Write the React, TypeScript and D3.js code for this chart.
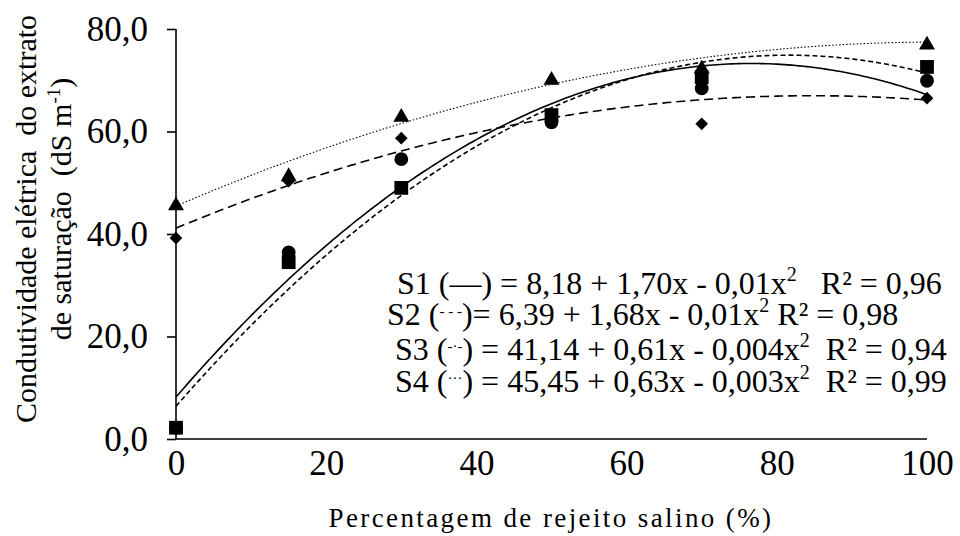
import * as d3 from 'd3';
import { useEffect, useRef } from 'react';

// percentage of saline reject
const doses = [0, 15, 30, 50, 70, 100];

// measured values, dS m-1
const s1Values = [2.2, 36.4, 54.6, 61.8, 68.4, 69.9];
const s2Values = [2.2, 34.5, 49.0, 63.2, 70.6, 72.6];
const s3Values = [39.2, 50.3, 58.7, 62.6, 61.5, 66.5];
const s4Values = [45.9, 51.6, 63.2, 70.4, 72.6, 77.3];

// quadratic fits (a + b x + c x^2)
const fitA = [8.18, 6.39, 41.14, 45.45];
const fitB = [1.70, 1.68, 0.61, 0.63];
const fitC = [-0.0111, -0.0103, -0.0036, -0.0031];

const seriesNames = ['S1', 'S2', 'S3', 'S4'];
const legendMarks = ['—', '- - -', '-·-', '···'];
const legendEquations = [
  ') = 8,18 + 1,70x - 0,01x',
  ')= 6,39 + 1,68x - 0,01x',
  ') = 41,14 + 0,61x - 0,004x',
  ') = 45,45 + 0,63x - 0,003x',
];
const legendR2 = ['   R² = 0,96', ' R² = 0,98', '  R² = 0,94', '  R² = 0,99'];

const yTicks = [0, 20, 40, 60, 80];
const xTicks = [0, 20, 40, 60, 80, 100];

const FONT = '"Liberation Serif", "Times New Roman", serif';

export default function App() {
  const ref = useRef<SVGSVGElement>(null);

  useEffect(() => {
    const svg = d3.select(ref.current);
    svg.selectAll('*').remove();

    const width = 960;
    const height = 536;
    const left = 176;
    const right = 927;
    const top = 29;
    const bottom = 439;

    const x = d3.scaleLinear().domain([0, 100]).range([left, right]);
    const y = d3.scaleLinear().domain([0, 80]).range([bottom, top]);

    svg.attr('width', width).attr('height', height).attr('font-family', FONT);
    svg.append('rect').attr('width', width).attr('height', height).attr('fill', '#fff');

    // axes
    const yAxis = svg.append('g')
      .attr('transform', `translate(${left},0)`)
      .call(d3.axisLeft(y).tickValues(yTicks).tickSize(9).tickPadding(19)
        .tickFormat((d) => d3.format('.1f')(d as number).replace('.', ',')));
    yAxis.attr('font-family', FONT);
    yAxis.select('.domain').attr('stroke', '#000').attr('stroke-width', 1.6)
      .attr('d', `M0,${bottom}V${top}`);
    yAxis.selectAll('.tick line').attr('stroke', '#000').attr('stroke-width', 1.6);
    yAxis.selectAll('.tick text').attr('font-size', 35).attr('fill', '#000');

    const xAxis = svg.append('g')
      .attr('transform', `translate(0,${bottom})`)
      .call(d3.axisBottom(x).tickValues(xTicks).tickSize(0).tickPadding(11)
        .tickFormat(d3.format('d')));
    xAxis.attr('font-family', FONT);
    xAxis.select('.domain').attr('stroke', '#000').attr('stroke-width', 1.6)
      .attr('d', `M${left},0H${right}`);
    xAxis.selectAll('.tick text').attr('font-size', 35).attr('fill', '#000');

    // axis titles
    svg.append('text')
      .attr('x', 551)
      .attr('y', 527)
      .attr('text-anchor', 'middle')
      .attr('font-size', 27)
      .attr('letter-spacing', 2.4)
      .text('Percentagem de rejeito salino (%)');

    const yTitle = svg.append('text')
      .attr('transform', 'rotate(-90)')
      .attr('text-anchor', 'middle')
      .attr('font-size', 30)
      .style('white-space', 'pre');
    yTitle.append('tspan').attr('x', -219).attr('y', 36)
      .text('Condutividade elétrica  do extrato');
    const line2 = yTitle.append('tspan').attr('x', -209).attr('y', 71);
    line2.append('tspan').text('de saturação  (dS m');
    line2.append('tspan').attr('dy', -11).attr('font-size', 19).text('-1');
    line2.append('tspan').attr('dy', 11).text(')');

    // fitted curves
    const curveX = d3.range(0, 100.01, 0.5);
    const dashes = [null, '5,3', '9,5', '1.5,2'];
    const widths = [1.6, 1.6, 1.6, 1.1];
    seriesNames.forEach((_, i) => {
      const line = d3.line<number>()
        .x((d) => x(d))
        .y((d) => y(fitA[i] + fitB[i] * d + fitC[i] * d * d));
      svg.append('path')
        .datum(curveX)
        .attr('d', line)
        .attr('fill', 'none')
        .attr('stroke', '#000')
        .attr('stroke-width', widths[i])
        .attr('stroke-dasharray', dashes[i]);
    });

    // points
    const allValues = [s1Values, s2Values, s3Values, s4Values];
    const symbols = [
      d3.symbol().type(d3.symbolCircle).size(150),
      d3.symbol().type(d3.symbolSquare).size(190),
      d3.symbol().type(d3.symbolSquare).size(80),
      d3.symbol().type(d3.symbolTriangle).size(110),
    ];
    const rotations = [0, 0, 45, 0];
    allValues.forEach((vals, i) => {
      svg.append('g')
        .selectAll('path')
        .data(vals)
        .enter()
        .append('path')
        .attr('d', symbols[i]())
        .attr('fill', '#000')
        .attr('transform', (d, j) =>
          `translate(${x(doses[j])},${y(d) + (i === 3 ? 2 : 0)}) rotate(${rotations[i]})`);
    });

    // equations
    const legendY = [294, 325, 360, 392];
    const legendX = [397, 387, 395, 395];
    seriesNames.forEach((name, i) => {
      const t = svg.append('text')
        .attr('x', legendX[i])
        .attr('y', legendY[i])
        .attr('font-size', 32)
        .style('white-space', 'pre');
      t.append('tspan').text(`${name} (`);
      const small = i > 0;
      t.append('tspan')
        .attr('dy', small ? -9 : 0)
        .attr('font-size', small ? 15 : 32)
        .text(legendMarks[i]);
      t.append('tspan').attr('dy', small ? 9 : 0).text(legendEquations[i]);
      t.append('tspan').attr('dy', -13).attr('font-size', 20).text('2');
      t.append('tspan').attr('dy', 13).text(legendR2[i]);
    });
  }, []);

  return (
    <svg
      ref={ref}
      style={{ position: 'absolute', left: 0, top: 0, display: 'block' }}
      role="img"
      aria-label="Condutividade elétrica do extrato de saturação"
    />
  );
}
